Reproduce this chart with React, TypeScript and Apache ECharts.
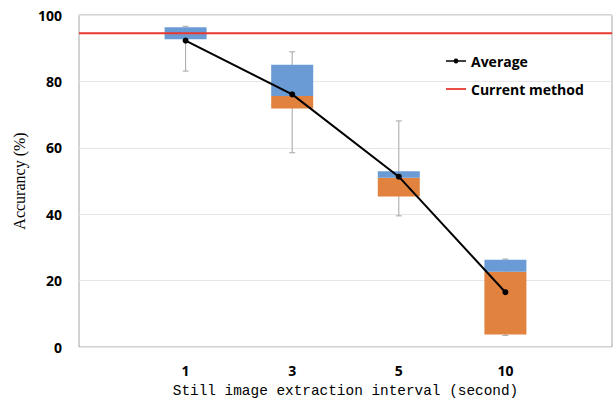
import React, { useEffect, useRef } from "react";
import * as echarts from "echarts";

const categories = ["", "1", "3", "5", "10", ""];
const q1 = ["-", 92.7, 71.8, 45.3, 3.8, "-"];
const median = ["-", 92.7, 75.6, 51.0, 22.7, "-"];
const q3 = ["-", 96.3, 85.0, 52.9, 26.3, "-"];
const minVals = ["-", 83.1, 58.5, 39.5, 3.5, "-"];
const maxVals = ["-", 96.6, 88.9, 68.1, 26.5, "-"];
const average = ["-", 92.3, 76.1, 51.3, 16.5, "-"];
const currentMethod = [94.5, 94.5, 94.5, 94.5, 94.5, 94.5];
const yTicks = [0, 20, 40, 60, 80, 100];

export default function App() {
  const ref = useRef<HTMLDivElement>(null);
  useEffect(() => {
    const chart = echarts.init(ref.current!, null, { renderer: "svg" });
    const orange = q1.map((v, i) => (v === "-" ? "-" : +(Number(median[i]) - Number(v)).toFixed(2)));
    const blue = q3.map((v, i) => (v === "-" ? "-" : +(Number(v) - Number(median[i])).toFixed(2)));
    const whiskers: any[] = [];
    minVals.forEach((v, i) => {
      if (v !== "-") whiskers.push([i, v, maxVals[i]]);
    });
    chart.setOption({
      animation: false,
      grid: {
        left: 79,
        right: 2,
        top: 15,
        bottom: 55,
        containLabel: false,
        outerBoundsMode: "none",
        show: true,
        borderColor: "#a6a6a6",
        borderWidth: 1,
      },
      legend: {
        orient: "vertical",
        left: 446,
        top: 54,
        padding: 0,
        itemWidth: 20,
        itemHeight: 14,
        itemGap: 14,
        data: [
          { name: "Average", icon: "path://M0 6.2H20V7.8H0Z M10 4.6A2.4 2.4 0 1 1 9.99 4.6Z" },
          { name: "Current method", icon: "path://M0 6.1H20V7.9H0Z" },
        ],
        textStyle: {
          fontFamily: "Open Sans",
          fontWeight: "bold",
          fontSize: 14,
          color: "#000",
        },
      },
      xAxis: {
        type: "category",
        data: categories,
        boundaryGap: false,
        axisLine: { show: false },
        axisTick: { show: false },
        axisLabel: {
          fontFamily: "Open Sans",
          fontWeight: "bold",
          fontSize: 14,
          color: "#000",
          margin: 16,
        },
        splitLine: { show: false },
        name: "Still image extraction interval (second)",
        nameLocation: "middle",
        nameGap: 37,
        nameTextStyle: {
          fontFamily: "Liberation Mono",
          fontSize: 14.4,
          color: "#000",
        },
      },
      yAxis: {
        type: "value",
        min: yTicks[0],
        max: yTicks[yTicks.length - 1],
        interval: 20,
        axisLine: { show: false },
        axisTick: { show: false },
        axisLabel: {
          fontFamily: "Open Sans",
          fontWeight: "bold",
          fontSize: 14,
          color: "#000",
          margin: 17,
        },
        splitLine: { lineStyle: { color: "#e6e6e6", width: 1 } },
        name: "Accurancy (%)",
        nameLocation: "middle",
        nameGap: 41,
        nameTextStyle: {
          fontFamily: "Liberation Serif",
          fontSize: 16,
          color: "#000",
        },
      },
      series: [
        {
          type: "custom",
          name: "whisker",
          z: 1,
          renderItem: (params: any, api: any) => {
            const top = api.coord([api.value(0), api.value(2)]);
            const bot = api.coord([api.value(0), api.value(1)]);
            const style = { stroke: "#a6a6a6", lineWidth: 1 };
            return {
              type: "group",
              children: [
                { type: "line", shape: { x1: top[0], y1: top[1], x2: bot[0], y2: bot[1] }, style },
                { type: "line", shape: { x1: top[0] - 3, y1: top[1], x2: top[0] + 3, y2: top[1] }, style },
                { type: "line", shape: { x1: bot[0] - 3, y1: bot[1], x2: bot[0] + 3, y2: bot[1] }, style },
              ],
            };
          },
          data: whiskers,
          encode: { x: 0, y: [1, 2] },
        },
        {
          type: "bar",
          name: "base",
          stack: "box",
          barWidth: 42,
          z: 2,
          itemStyle: { color: "transparent" },
          data: q1,
        },
        {
          type: "bar",
          name: "lower",
          stack: "box",
          barWidth: 42,
          z: 2,
          itemStyle: { color: "#E1823F" },
          data: orange,
        },
        {
          type: "bar",
          name: "upper",
          stack: "box",
          barWidth: 42,
          z: 2,
          itemStyle: { color: "#6A9BD5" },
          data: blue,
        },
        {
          type: "line",
          name: "Current method",
          z: 3,
          symbol: "none",
          lineStyle: { color: "#E8392F", width: 2 },
          itemStyle: { color: "#E8392F" },
          data: currentMethod,
        },
        {
          type: "line",
          name: "Average",
          z: 4,
          symbol: "circle",
          symbolSize: 6,
          lineStyle: { color: "#000", width: 2 },
          itemStyle: { color: "#000" },
          data: average,
        },
      ],
    });
    return () => chart.dispose();
  }, []);
  return <div ref={ref} style={{ width: 614, height: 402, position: "absolute", left: 0, top: 0 }} />;
}
